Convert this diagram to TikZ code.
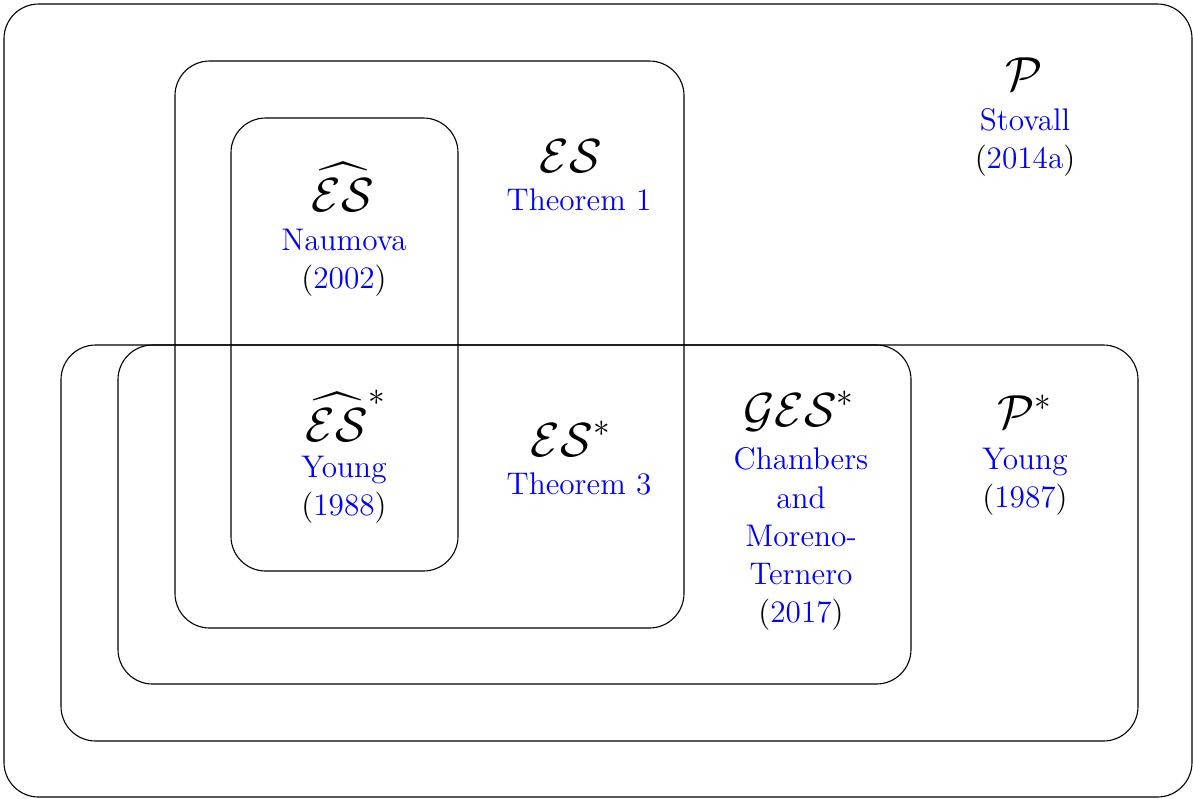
\documentclass[tikz,border=0pt]{standalone}
\usepackage{amsmath}
\tikzset{
  region/.style={draw=black, line width=0.4pt, rounded corners=12.5pt},
  sym/.style={anchor=base, inner sep=0pt, font=\LARGE},
  ref/.style={anchor=base, inner sep=0pt, font=\fontsize{11.3}{13.6}\selectfont},
}
\newcommand{\bl}[1]{\textcolor{blue}{#1}}
\begin{document}
\begin{tikzpicture}[x=0.01269cm, y=-0.01269cm]
  \useasboundingbox (0,0) rectangle (1193,798);

  % nested regions
  \draw[region] (4,4) rectangle (1192,797);
  \draw[region] (61,345) rectangle (1138,741);
  \draw[region] (118,345) rectangle (911,684);
  \draw[region] (175,61) rectangle (684,628);
  \draw[region] (231,118) rectangle (458,571);

  % P
  \node[sym] (P) at (1024,90) {$\mathcal{P}$};
  \node[ref] (Pa) at (1025,130) {\bl{Stovall}};
  \node[ref] (Pb) at (1025,168) {(\bl{2014a})};

  % ES hat
  \node[sym] (EShat) at (343,211) {$\widehat{\mathcal{ES}}$};
  \node[ref] (EShata) at (344,250) {\bl{Naumova}};
  \node[ref] (EShatb) at (344,288) {(\bl{2002})};

  % ES
  \node[sym] (ES) at (571,172) {$\mathcal{ES}$};
  \node[ref] (ESa) at (579,210) {\bl{Theorem 1}};

  % ES hat star
  \node[sym] (EShats) at (346,441) {$\widehat{\mathcal{ES}}^*$};
  \node[ref] (EShatsa) at (344,477) {\bl{Young}};
  \node[ref] (EShatsb) at (344,515) {(\bl{1988})};

  % ES star
  \node[sym] (ESs) at (571,456) {$\mathcal{ES}^*$};
  \node[ref] (ESsa) at (579,494) {\bl{Theorem 3}};

  % GES star
  \node[sym] (GESs) at (799,426) {$\mathcal{GES}^*$};
  \node[ref] (GESa) at (801,469) {\bl{Chambers}};
  \node[ref] (GESb) at (801,508) {\bl{and}};
  \node[ref] (GESc) at (801,546) {\bl{Moreno-}};
  \node[ref] (GESd) at (801,584) {\bl{Ternero}};
  \node[ref] (GESe) at (801,622) {(\bl{2017})};

  % P star
  \node[sym] (Ps) at (1025,428) {$\mathcal{P}^*$};
  \node[ref] (Psa) at (1025,469) {\bl{Young}};
  \node[ref] (Psb) at (1025,507) {(\bl{1987})};
\end{tikzpicture}
\end{document}
